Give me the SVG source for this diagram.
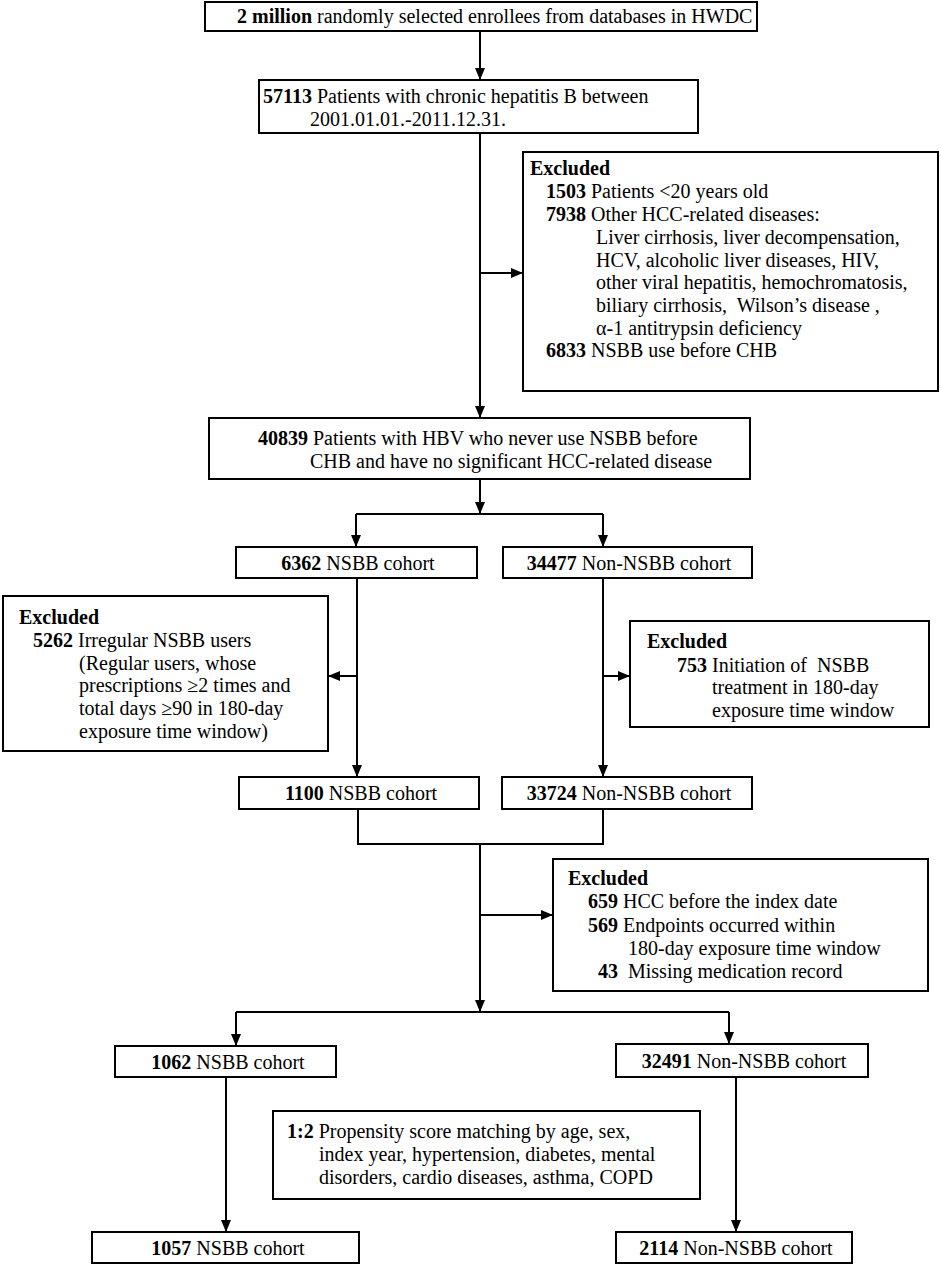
<svg xmlns="http://www.w3.org/2000/svg" width="941" height="1266" viewBox="0 0 941 1266">
<style>
.box{fill:#fff;stroke:#000;stroke-width:2}
.ln{fill:none;stroke:#000;stroke-width:2}
text{font-family:"Liberation Serif","Times New Roman",serif;font-size:20px;fill:#000;white-space:pre}
.b{font-weight:bold}
.c{text-anchor:middle}
</style>
<defs>
<marker id="ah" viewBox="0 0 12 10" refX="12" refY="5" markerWidth="12" markerHeight="10" markerUnits="userSpaceOnUse" orient="auto">
<path d="M0,0 L12,5 L0,10 z" fill="#000"/>
</marker>
</defs>
<g id="connectors">
<path class="ln" d="M480,31 V80" marker-end="url(#ah)"/>
<path class="ln" d="M480,133 V418" marker-end="url(#ah)"/>
<path class="ln" d="M480,273 H523" marker-end="url(#ah)"/>
<path class="ln" d="M480,479 V514" marker-end="url(#ah)"/>
<path class="ln" d="M356,514 H603"/>
<path class="ln" d="M356,514 V547" marker-end="url(#ah)"/>
<path class="ln" d="M603,514 V547" marker-end="url(#ah)"/>
<path class="ln" d="M357,578 V777" marker-end="url(#ah)"/>
<path class="ln" d="M357,676 H328" marker-end="url(#ah)"/>
<path class="ln" d="M603,578 V777" marker-end="url(#ah)"/>
<path class="ln" d="M603,676 H630" marker-end="url(#ah)"/>
<path class="ln" d="M358,809 V844 H603 V809"/>
<path class="ln" d="M480,844 V1012" marker-end="url(#ah)"/>
<path class="ln" d="M480,915 H553" marker-end="url(#ah)"/>
<path class="ln" d="M236,1012 H729"/>
<path class="ln" d="M236,1012 V1046" marker-end="url(#ah)"/>
<path class="ln" d="M729,1012 V1044" marker-end="url(#ah)"/>
<path class="ln" d="M226,1077 V1232" marker-end="url(#ah)"/>
<path class="ln" d="M736,1077 V1232" marker-end="url(#ah)"/>
</g>
<g id="n-enrollees">
<rect class="box" x="205" y="2" width="552" height="29"/>
<text x="237" y="23"><tspan class="b">2 million</tspan> randomly selected enrollees from databases in HWDC</text>
</g>
<g id="n-57113">
<rect class="box" x="259" y="80" width="439" height="53"/>
<text x="263" y="103"><tspan class="b">57113</tspan> Patients with chronic hepatitis B between</text>
<text x="310" y="126">2001.01.01.-2011.12.31.</text>
</g>
<g id="n-excl1">
<rect class="box" x="523" y="152" width="415" height="239"/>
<text x="530" y="175" class="b">Excluded</text>
<text x="546" y="198"><tspan class="b">1503</tspan> Patients &lt;20 years old</text>
<text x="546" y="221"><tspan class="b">7938</tspan> Other HCC-related diseases:</text>
<text x="596" y="244">Liver cirrhosis, liver decompensation,</text>
<text x="596" y="267">HCV, alcoholic liver diseases, HIV,</text>
<text x="596" y="289">other viral hepatitis, hemochromatosis,</text>
<text x="596" y="312">biliary cirrhosis,  Wilson’s disease ,</text>
<text x="596" y="335">α-1 antitrypsin deficiency</text>
<text x="546" y="357"><tspan class="b">6833</tspan> NSBB use before CHB</text>
</g>
<g id="n-40839">
<rect class="box" x="209" y="418" width="541" height="61"/>
<text x="258" y="445"><tspan class="b">40839</tspan> Patients with HBV who never use NSBB before</text>
<text x="310" y="468">CHB and have no significant HCC-related disease</text>
</g>
<g id="n-6362">
<rect class="box" x="236" y="547" width="241" height="31"/>
<text class="c" x="358" y="570"><tspan class="b">6362</tspan> NSBB cohort</text>
</g>
<g id="n-34477">
<rect class="box" x="503" y="547" width="249" height="31"/>
<text class="c" x="629" y="570"><tspan class="b">34477</tspan> Non-NSBB cohort</text>
</g>
<g id="n-excl2">
<rect class="box" x="3" y="596" width="325" height="155"/>
<text x="19" y="624" class="b">Excluded</text>
<text x="33" y="647"><tspan class="b">5262</tspan> Irregular NSBB users</text>
<text x="79" y="670">(Regular users, whose</text>
<text x="79" y="692">prescriptions ≥2 times and</text>
<text x="79" y="715">total days ≥90 in 180-day</text>
<text x="79" y="738">exposure time window)</text>
</g>
<g id="n-excl3">
<rect class="box" x="630" y="621" width="299" height="106"/>
<text x="647" y="648" class="b">Excluded</text>
<text x="677" y="672"><tspan class="b">753</tspan> Initiation of  NSBB</text>
<text x="712" y="694">treatment in 180-day</text>
<text x="712" y="717">exposure time window</text>
</g>
<g id="n-1100">
<rect class="box" x="239" y="777" width="240" height="32"/>
<text class="c" x="361" y="800"><tspan class="b">1100</tspan> NSBB cohort</text>
</g>
<g id="n-33724">
<rect class="box" x="502" y="777" width="250" height="32"/>
<text class="c" x="629" y="800"><tspan class="b">33724</tspan> Non-NSBB cohort</text>
</g>
<g id="n-excl4">
<rect class="box" x="553" y="859" width="375" height="132"/>
<text x="568" y="885" class="b">Excluded</text>
<text x="588" y="908"><tspan class="b">659</tspan> HCC before the index date</text>
<text x="588" y="932"><tspan class="b">569</tspan> Endpoints occurred within</text>
<text x="628" y="955">180-day exposure time window</text>
<text x="598" y="978" class="b">43</text>
<text x="628" y="978">Missing medication record</text>
</g>
<g id="n-1062">
<rect class="box" x="115" y="1046" width="221" height="31"/>
<text class="c" x="228" y="1069"><tspan class="b">1062</tspan> NSBB cohort</text>
</g>
<g id="n-32491">
<rect class="box" x="616" y="1044" width="252" height="33"/>
<text class="c" x="744" y="1068"><tspan class="b">32491</tspan> Non-NSBB cohort</text>
</g>
<g id="n-psm">
<rect class="box" x="273" y="1111" width="427" height="88"/>
<text x="287" y="1138"><tspan class="b">1:2</tspan> Propensity score matching by age, sex,</text>
<text x="319" y="1161">index year, hypertension, diabetes, mental</text>
<text x="319" y="1184">disorders, cardio diseases, asthma, COPD</text>
</g>
<g id="n-1057">
<rect class="box" x="92" y="1232" width="267" height="31"/>
<text class="c" x="228" y="1255"><tspan class="b">1057</tspan> NSBB cohort</text>
</g>
<g id="n-2114">
<rect class="box" x="616" y="1232" width="236" height="31"/>
<text class="c" x="736" y="1255"><tspan class="b">2114</tspan> Non-NSBB cohort</text>
</g>
</svg>
